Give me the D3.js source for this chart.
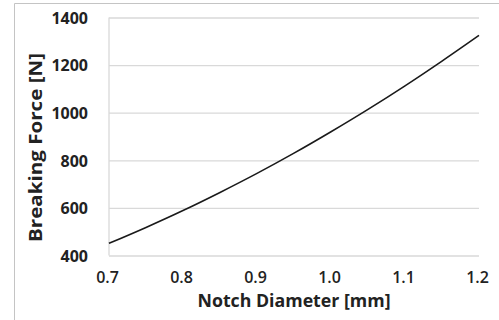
<!DOCTYPE html>
<html>
<head>
<meta charset="utf-8">
<script src="https://cdn.jsdelivr.net/npm/d3@7"></script>
<style>
  html, body { margin: 0; padding: 0; background: #fff; }
  svg { display: block; }
  text { font-family: "Open Sans", "Lato", sans-serif; fill: #222; }
</style>
</head>
<body>
<svg id="chart" width="499" height="320"></svg>
<script>
// Data
const diameters = [0.70, 0.75, 0.80, 0.85, 0.90, 0.95, 1.00, 1.05, 1.10, 1.15, 1.20];
const forces    = [451, 518, 589, 665, 745, 830, 920, 1014, 1113, 1217, 1325];
const xTicks = [0.7, 0.8, 0.9, 1.0, 1.1, 1.2];
const yTicks = [400, 600, 800, 1000, 1200, 1400];
const xTitle = "Notch Diameter [mm]";
const yTitle = "Breaking Force [N]";

const svg = d3.select("#chart");
const plot = { left: 109, right: 479, top: 17.5, bottom: 255.5 };

// outer chart border (only top and left edges visible)
svg.append("line")
  .attr("x1", 14.5).attr("x2", 499).attr("y1", 3.5).attr("y2", 3.5)
  .attr("stroke", "#c4c4c4").attr("stroke-width", 1);
svg.append("line")
  .attr("x1", 14.5).attr("x2", 14.5).attr("y1", 3.5).attr("y2", 320)
  .attr("stroke", "#c4c4c4").attr("stroke-width", 1);

const x = d3.scaleLinear().domain([0.7, 1.2]).range([plot.left, plot.right]);
const y = d3.scaleLinear().domain([400, 1400]).range([plot.bottom, plot.top]);

// gridlines
svg.append("g")
  .attr("transform", `translate(${plot.left},0)`)
  .call(d3.axisLeft(y).tickValues(yTicks).tickSize(-(plot.right - plot.left)).tickFormat(""))
  .call(g => g.select(".domain").remove())
  .call(g => g.selectAll("line").attr("stroke", "#d9d9d9").attr("stroke-width", 1.3));

// left axis line
svg.append("line")
  .attr("x1", plot.left).attr("x2", plot.left)
  .attr("y1", plot.top).attr("y2", plot.bottom)
  .attr("stroke", "#d9d9d9").attr("stroke-width", 1.3);

// y tick labels
svg.append("g")
  .attr("transform", `translate(88,0)`)
  .call(d3.axisLeft(y).tickValues(yTicks).tickSize(0).tickPadding(0).tickFormat(d3.format("d")))
  .call(g => g.select(".domain").remove())
  .call(g => g.selectAll("text")
    .attr("x", 0).attr("dy", "0.36em")
    .style("font-family", '"Open Sans", sans-serif')
    .style("font-size", "16px").style("font-weight", 700).attr("fill", "#222"));

// x tick labels
svg.append("g")
  .attr("transform", `translate(0,${plot.bottom})`)
  .call(d3.axisBottom(x).tickValues(xTicks).tickSize(0).tickPadding(0).tickFormat(d3.format(".1f")))
  .call(g => g.select(".domain").remove())
  .call(g => g.selectAll("text")
    .attr("y", 27).attr("dy", 0)
    .attr("dx", -2)
    .style("font-family", '"Open Sans", sans-serif')
    .style("font-size", "16px").style("font-weight", 600).attr("fill", "#222"));

// curve
const line = d3.line()
  .x((d, i) => x(diameters[i]))
  .y(d => y(d))
  .curve(d3.curveMonotoneX);
svg.append("path")
  .datum(forces)
  .attr("d", line)
  .attr("fill", "none")
  .attr("stroke", "#1a1a1a")
  .attr("stroke-width", 1.6);

// axis titles
svg.append("text")
  .attr("x", 294).attr("y", 307)
  .attr("text-anchor", "middle")
  .attr("textLength", 193).attr("lengthAdjust", "spacingAndGlyphs")
  .style("font-size", "18px").style("font-weight", 700)
  .text(xTitle);

svg.append("text")
  .attr("transform", "translate(42,147.5) rotate(-90)")
  .attr("text-anchor", "middle")
  .attr("textLength", 189).attr("lengthAdjust", "spacingAndGlyphs")
  .style("font-size", "18px").style("font-weight", 700)
  .text(yTitle);
</script>
</body>
</html>
